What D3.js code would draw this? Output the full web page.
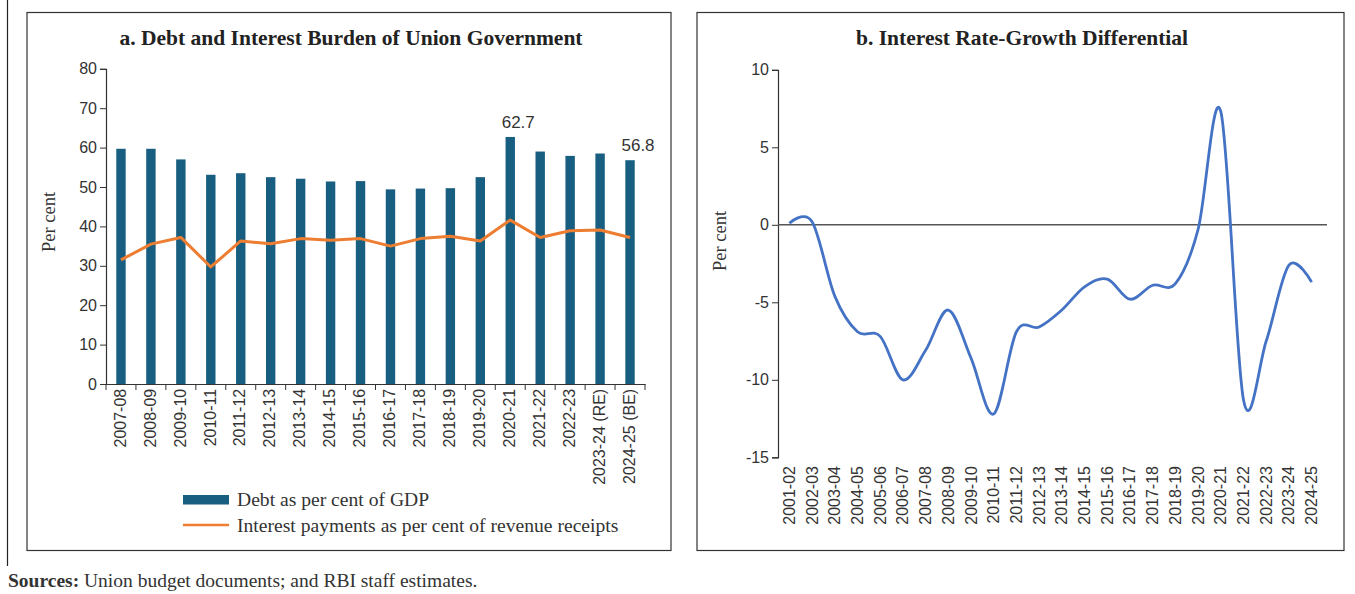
<!DOCTYPE html>
<html>
<head>
<meta charset="utf-8">
<script src="https://cdn.jsdelivr.net/npm/d3@7"></script>
<style>
  body { margin: 0; background: #fff; }
  svg { display: block; }
  .serif { font-family: "Liberation Serif", "DejaVu Serif", serif; }
  .sans { font-family: "Liberation Sans", Arial, sans-serif; }
</style>
</head>
<body>
<div id="chart"></div>
<script>
// data for panel a
var debtYears = ["2007-08", "2008-09", "2009-10", "2010-11", "2011-12", "2012-13", "2013-14",
                 "2014-15", "2015-16", "2016-17", "2017-18", "2018-19", "2019-20", "2020-21",
                 "2021-22", "2022-23", "2023-24 (RE)", "2024-25 (BE)"];
var debtGdp = [59.7, 59.7, 57.0, 53.1, 53.5, 52.5, 52.1, 51.4, 51.5, 49.4, 49.6, 49.7, 52.5, 62.7,
               59.0, 57.9, 58.5, 56.8];
var interestRevenue = [31.5, 35.5, 37.2, 29.7, 36.3, 35.6, 36.9, 36.5, 36.9, 35.0, 36.9, 37.5, 36.3,
                       41.6, 37.2, 38.9, 39.1, 37.2];
var debtTicks = [0, 10, 20, 30, 40, 50, 60, 70, 80];

// data for panel b
var irgdYears = ["2001-02", "2002-03", "2003-04", "2004-05", "2005-06", "2006-07", "2007-08",
                 "2008-09", "2009-10", "2010-11", "2011-12", "2012-13", "2013-14", "2014-15",
                 "2015-16", "2016-17", "2017-18", "2018-19", "2019-20", "2020-21", "2021-22",
                 "2022-23", "2023-24", "2024-25"];
var irgd = [0.1, 0.2, -4.6, -6.9, -7.2, -10.0, -8.1, -5.5, -8.6, -12.2, -6.9, -6.6, -5.5, -4.0,
            -3.5, -4.8, -3.9, -3.8, -0.3, 7.3, -11.3, -7.5, -2.6, -3.7];
var irgdTicks = [-15, -10, -5, 0, 5, 10];

var W = 1355, H = 594;
var barColor = "#185e80", orange = "#ed7d31", blue = "#4472c4";

var svg = d3.select("#chart").append("svg")
            .attr("width", W)
            .attr("height", H);

// page rule on the left
svg.append("line")
   .attr("x1", 7.5).attr("x2", 7.5).attr("y1", 0).attr("y2", 566)
   .attr("stroke", "#222").attr("stroke-width", 1.2);

// panel frames
svg.append("rect").attr("x", 27).attr("y", 12.5).attr("width", 644).attr("height", 538)
   .attr("fill", "none").attr("stroke", "#333").attr("stroke-width", 1.2);
svg.append("rect").attr("x", 697).attr("y", 12.5).attr("width", 647).attr("height", 538)
   .attr("fill", "none").attr("stroke", "#333").attr("stroke-width", 1.2);

// ---------- panel a ----------
var xa = d3.scaleBand().domain(debtYears).range([106, 645]);
var ya = d3.scaleLinear().domain([0, 80]).range([384, 68.8]);

svg.append("text").attr("class", "serif")
   .attr("x", 351).attr("y", 45).attr("text-anchor", "middle")
   .attr("font-size", 21.5).attr("font-weight", "bold").attr("fill", "#222")
   .text("a. Debt and Interest Burden of Union Government");

var gya = svg.append("g").attr("transform", "translate(106,0)")
   .call(d3.axisLeft(ya).tickValues(debtTicks).tickSize(6).tickPadding(3));
gya.selectAll("text").attr("class", "sans").attr("font-size", 16).attr("fill", "#333");

var gxa = svg.append("g").attr("transform", "translate(0,384)")
   .call(d3.axisBottom(xa).tickSize(0).tickPadding(5));
gxa.selectAll("text").attr("class", "sans").attr("font-size", 16).attr("fill", "#333")
   .attr("text-anchor", "end")
   .attr("transform", "rotate(-90)")
   .attr("dx", "-0.3em").attr("dy", "-0.05em")
   .attr("x", null).attr("y", null)
   .style("dominant-baseline", "central");
// ticks between categories
gxa.selectAll(".sep").data(debtYears.concat(["end"]))
   .enter().append("line")
   .attr("x1", function(d, i) { return 106 + i * xa.step(); })
   .attr("x2", function(d, i) { return 106 + i * xa.step(); })
   .attr("y1", 0).attr("y2", 6).attr("stroke", "#333");
svg.selectAll(".domain").attr("stroke", "#333").attr("stroke-width", 1.2);
svg.selectAll(".tick line").attr("stroke", "#333");

// bars
var bw = 9.4;
svg.selectAll(".bar").data(debtGdp).enter().append("rect")
   .attr("class", "bar")
   .attr("x", function(d, i) { return xa(debtYears[i]) + xa.bandwidth() / 2 - bw / 2; })
   .attr("y", function(d) { return ya(d); })
   .attr("width", bw)
   .attr("height", function(d) { return ya(0) - ya(d); })
   .attr("fill", barColor);

// interest line
svg.append("path").datum(interestRevenue)
   .attr("fill", "none").attr("stroke", orange).attr("stroke-width", 3)
   .attr("stroke-linejoin", "round")
   .attr("d", d3.line()
      .x(function(d, i) { return xa(debtYears[i]) + xa.bandwidth() / 2; })
      .y(function(d) { return ya(d); }));

// labels on selected bars
[13, 17].forEach(function(i) {
  svg.append("text").attr("class", "sans")
     .attr("x", xa(debtYears[i]) + xa.bandwidth() / 2 + 8)
     .attr("y", ya(debtGdp[i]) - 9)
     .attr("text-anchor", "middle").attr("font-size", 17).attr("fill", "#333")
     .text(debtGdp[i].toFixed(1));
});

svg.append("text").attr("class", "serif")
   .attr("transform", "translate(55,222) rotate(-90)")
   .attr("text-anchor", "middle").attr("font-size", 18.5).attr("fill", "#333")
   .text("Per cent");

// legend
svg.append("rect").attr("x", 183).attr("y", 495).attr("width", 46).attr("height", 9.5)
   .attr("fill", barColor);
svg.append("line").attr("x1", 183).attr("x2", 229).attr("y1", 525).attr("y2", 525)
   .attr("stroke", orange).attr("stroke-width", 2.5);
svg.append("text").attr("class", "serif").attr("x", 237).attr("y", 506)
   .attr("font-size", 19.6).attr("fill", "#333").text("Debt as per cent of GDP");
svg.append("text").attr("class", "serif").attr("x", 237).attr("y", 532)
   .attr("font-size", 19.6).attr("fill", "#333")
   .text("Interest payments as per cent of revenue receipts");

// ---------- panel b ----------
var xb = d3.scaleBand().domain(irgdYears).range([778, 1323]);
var yb = d3.scaleLinear().domain([-15, 10]).range([457.3, 69.8]);

svg.append("text").attr("class", "serif")
   .attr("x", 1022).attr("y", 45).attr("text-anchor", "middle")
   .attr("font-size", 21.5).attr("font-weight", "bold").attr("fill", "#222")
   .text("b. Interest Rate-Growth Differential");

var gyb = svg.append("g").attr("transform", "translate(778,0)")
   .call(d3.axisLeft(yb).tickValues(irgdTicks).tickSize(6).tickPadding(3)
           .tickFormat(function(d) { return String(d); }));  // plain hyphen minus
gyb.selectAll("text").attr("class", "sans").attr("font-size", 16).attr("fill", "#333");
gyb.select(".domain").attr("stroke", "#333").attr("stroke-width", 1.2);
gyb.selectAll(".tick line").attr("stroke", "#333");

// zero line
svg.append("line").attr("x1", 778).attr("x2", 1327)
   .attr("y1", yb(0)).attr("y2", yb(0))
   .attr("stroke", "#555").attr("stroke-width", 1.5);

// category labels below plot
var gxb = svg.append("g").attr("transform", "translate(0,462)")
   .call(d3.axisBottom(xb).tickSize(0).tickPadding(0));
gxb.select(".domain").remove();
gxb.selectAll("text").attr("class", "sans").attr("font-size", 16).attr("fill", "#333")
   .attr("text-anchor", "end")
   .attr("transform", "rotate(-90)")
   .attr("x", -4).attr("y", 0).attr("dy", null)
   .style("dominant-baseline", "central");

svg.append("path").datum(irgd)
   .attr("fill", "none").attr("stroke", blue).attr("stroke-width", 2.8)
   .attr("d", d3.line()
      .x(function(d, i) { return xb(irgdYears[i]) + xb.bandwidth() / 2; })
      .y(function(d) { return yb(d); })
      .curve(d3.curveCardinal.tension(0)));

svg.append("text").attr("class", "serif")
   .attr("transform", "translate(726,241) rotate(-90)")
   .attr("text-anchor", "middle").attr("font-size", 18.5).attr("fill", "#333")
   .text("Per cent");

// source note
var src = svg.append("text").attr("class", "serif").attr("x", 8).attr("y", 587)
   .attr("font-size", 19.5).attr("fill", "#333");
src.append("tspan").attr("font-weight", "bold").text("Sources:");
src.append("tspan").text(" Union budget documents; and RBI staff estimates.");
</script>
</body>
</html>
